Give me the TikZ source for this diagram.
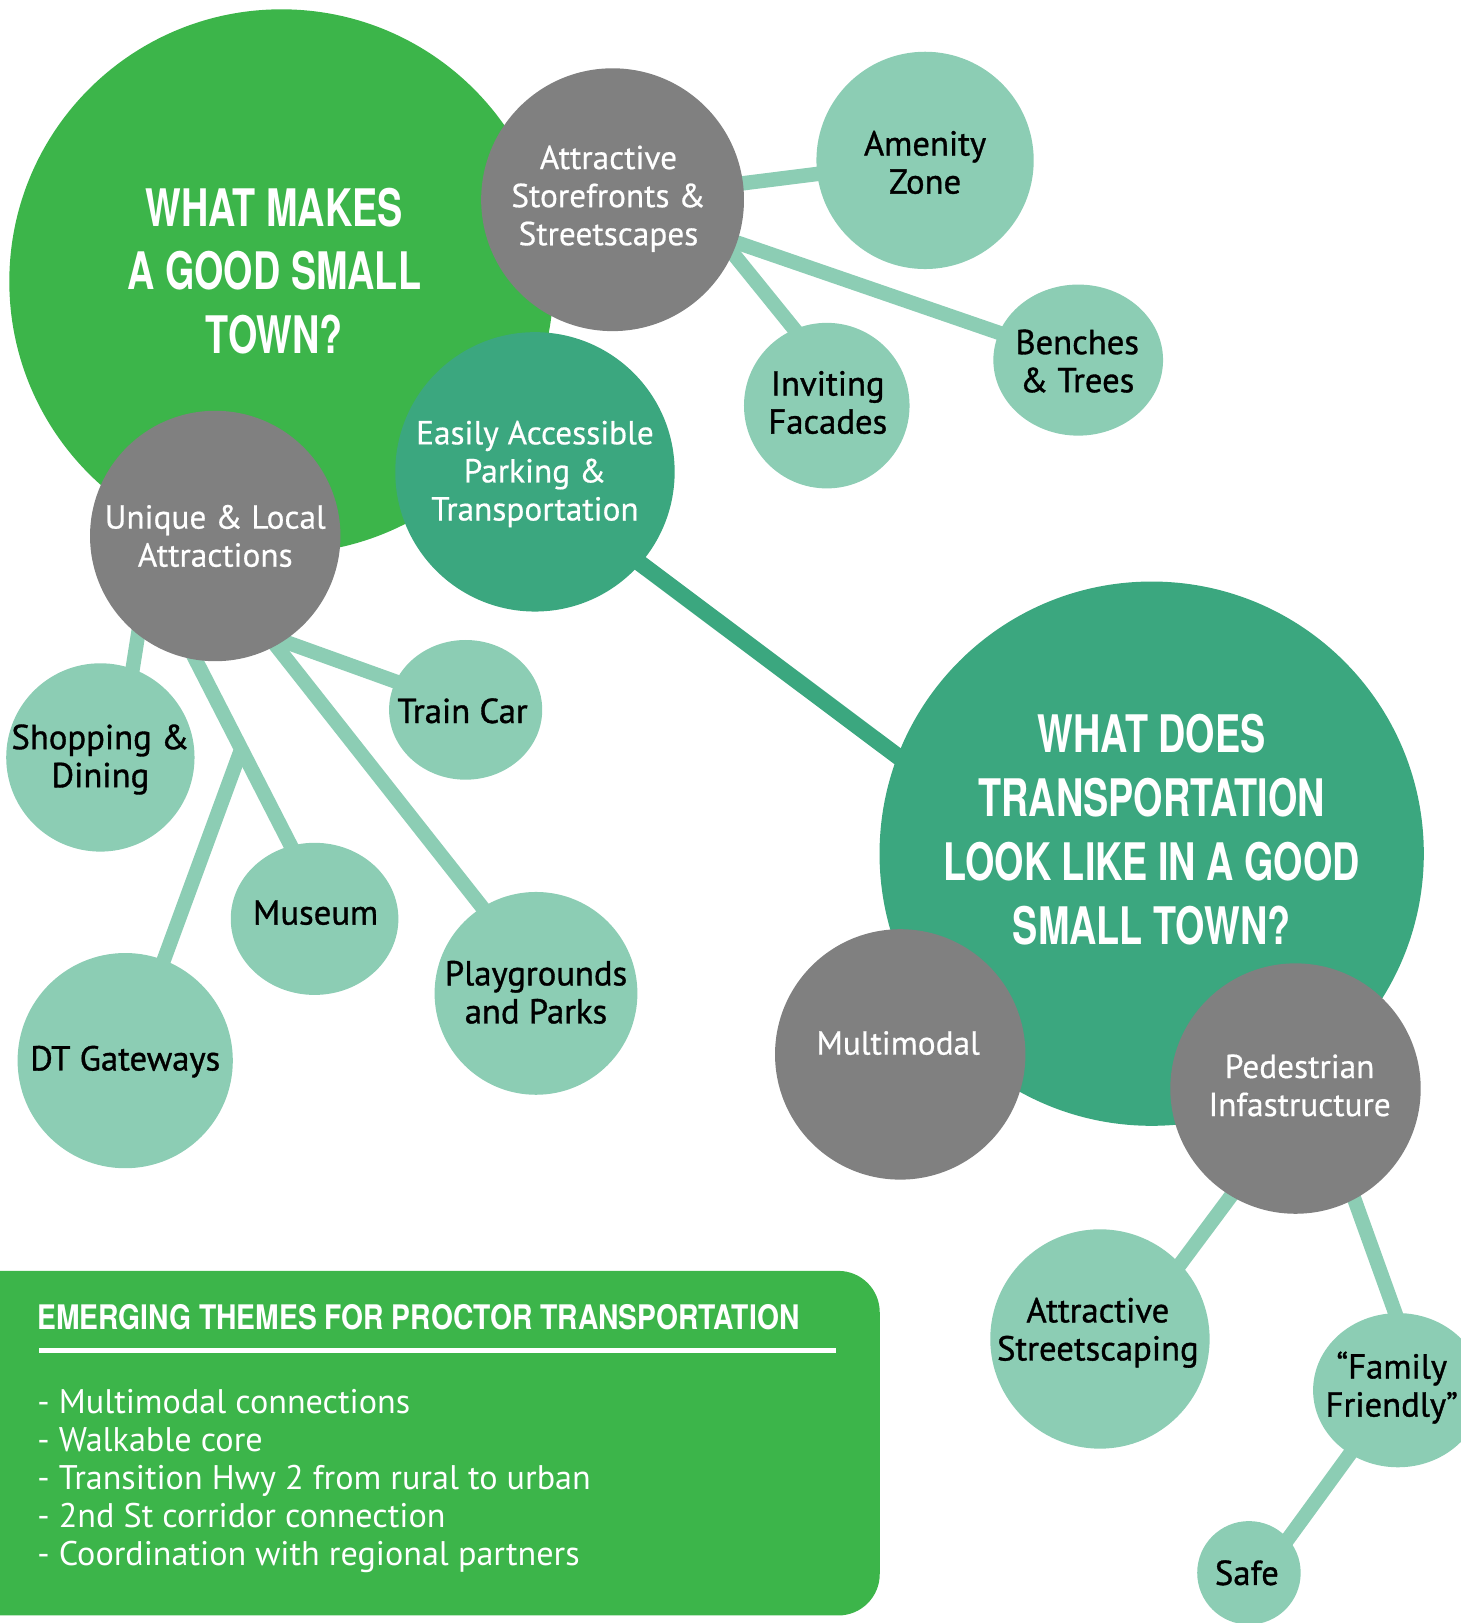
\documentclass[tikz,border=0pt]{standalone}
\usepackage{fontspec}
\setmainfont{PT Sans}
\newfontfamily\blackfont[FakeBold=1.0]{PT Sans}
\newfontfamily\whitefont[FakeBold=0.5]{PT Sans}
\newfontfamily\headA[FakeStretch=0.73]{TeX Gyre Heros}
\newfontfamily\headB[FakeStretch=0.835]{TeX Gyre Heros}
\newfontfamily\listfont{PT Sans}
\usetikzlibrary{shapes.geometric,backgrounds,calc}
\definecolor{bgreen}{HTML}{3CB54A}
\definecolor{dteal}{HTML}{3BA77F}
\definecolor{lteal}{HTML}{8CCDB4}
\definecolor{cgray}{HTML}{808080}
\begin{document}
\begin{tikzpicture}[x=1pt,y=-1pt,
  bub/.style={circle,inner sep=0pt,minimum size=#1},
  ell/.style 2 args={ellipse,inner sep=0pt,minimum width=#1,minimum height=#2},
  blbl/.style={align=center,inner sep=0pt,text=black,font=\blackfont\fontsize{33.5}{36.8}\selectfont},
  wlbl/.style={align=center,inner sep=0pt,text=white,font=\whitefont\fontsize{32.2}{36.8}\selectfont},
  bigtitle/.style={align=center,text=white,font=\headA\bfseries\fontsize{50}{61.7}\selectfont,inner sep=0pt},
  listline/.style={anchor=base west,inner sep=0pt,text=white,font=\listfont\fontsize{33}{36.6}\selectfont},
  conn/.style={line width=14pt,draw=lteal},
  dconn/.style={line width=16pt,draw=dteal},
  ext/.style={shorten <=-10pt,shorten >=-10pt}
]
\path[use as bounding box] (0,0) rectangle (1411,1568.5);

% top-left cluster
\node[bub=526pt,fill=bgreen] (g1) at (272,272) {};
\node[bigtitle] (g1t) at (265,262) {WHAT MAKES\\A GOOD SMALL\\TOWN?};
\node[bub=254pt,fill=cgray] (sf) at (592,193) {};
\node[wlbl] (sft) at (588,192) {Attractive\\Storefronts \&\\Streetscapes};
\node[bub=270pt,fill=dteal] (ea) at (517,456) {};
\node[wlbl] (eat) at (517,458) {Easily Accessible\\Parking \&\\Transportation};
\node[bub=242pt,fill=cgray] (ul) at (208,518) {};
\node[wlbl] (ult) at (208,518) {Unique \& Local\\Attractions};

\node[bub=210pt,fill=lteal] (am) at (894,155) {};
\node[blbl] (amt) at (894,157) {Amenity\\Zone};
\node[ell={164pt}{146pt},fill=lteal] (bt) at (1042,348) {};
\node[blbl] (btt) at (1041,349) {Benches\\\& Trees};
\node[bub=160pt,fill=lteal] (if) at (799,392) {};
\node[blbl] (ift) at (800,389) {Inviting\\Facades};

\node[bub=182pt,fill=lteal] (sd) at (97,732) {};
\node[blbl] (sdt) at (97,734) {Shopping \&\\Dining};
\node[ell={148pt}{135pt},fill=lteal] (tc) at (450,686) {};
\node[blbl] (tct) at (447,687) {Train Car};
\node[ell={162pt}{147pt},fill=lteal] (mu) at (304,888) {};
\node[blbl] (mut) at (305,882) {Museum};
\node[bub=196pt,fill=lteal] (pp) at (518,960) {};
\node[blbl] (ppt) at (518,959) {Playgrounds\\and Parks};
\node[bub=208pt,fill=lteal] (dt) at (121,1025) {};
\node[blbl] (dtt) at (121,1026) {DT Gateways};

% right cluster
\node[bub=526pt,fill=dteal] (g2) at (1113,825) {};
\node[bigtitle] (g2t) at (1113,802) {WHAT DOES\\TRANSPORTATION\\LOOK LIKE IN A GOOD\\SMALL TOWN?};
\node[bub=242pt,fill=cgray] (mm) at (870,1019) {};
\node[wlbl] (mmt) at (868,1008) {Multimodal};
\node[bub=242pt,fill=cgray] (pi) at (1252,1052) {};
\node[wlbl] (pit) at (1256,1049) {Pedestrian\\Infastructure};
\node[bub=212pt,fill=lteal] (as) at (1063,1294) {};
\node[blbl] (ast) at (1061,1288) {Attractive\\Streetscaping};
\node[ell={164pt}{149pt},fill=lteal] (ff) at (1351,1343.5) {};
\node[blbl] (fft) at (1345,1341) {“Family\\Friendly”};
\node[bub=100pt,fill=lteal] (sa) at (1207,1520) {};
\node[blbl] (sat) at (1205,1520) {Safe};

% themes box
\node[fill=bgreen,rounded corners=40pt,minimum width=910pt,minimum height=333pt,anchor=north west,inner sep=0pt] (box) at (-60,1228) {};
\node[anchor=base west,inner sep=0pt,text=white,font=\headB\bfseries\fontsize{32.7}{36}\selectfont] (boxt) at (36,1284.7) {EMERGING THEMES FOR PROCTOR TRANSPORTATION};
\coordinate (rule1) at (38,1305.5);
\coordinate (rule2) at (808,1305.5);
\draw[white,line width=5pt] (rule1) -- (rule2);
\node[listline] (l1) at (36,1366) {- Multimodal connections};
\node[listline] (l2) at (36,1403) {- Walkable core};
\node[listline] (l3) at (36,1439.4) {- Transition Hwy 2 from rural to urban};
\node[listline] (l4) at (36,1476) {- 2nd St corridor connection};
\node[listline] (l5) at (36,1512.5) {- Coordination with regional partners};

\begin{pgfonlayer}{background}
\draw[conn] (sf.center) -- (am.center);
\draw[conn] (sf.center) -- (bt.center);
\draw[conn,ext] (sf.-24) -- (if.113);
\draw[dconn,ext] (ea.-41) -- (g2.159);
\draw[conn,ext] (ul.-128) -- (sd.70);
\draw[conn,ext] (ul.-99) -- (mu.108);
\coordinate (br) at ($(ul.-99)!0.48!(mu.108)$);
\draw[conn,shorten >=-10pt] (br) -- (dt.69);
\draw[conn,ext] (ul.-57) -- (tc.158);
\draw[conn,ext] (ul.-61) -- (pp.122);
\draw[conn,ext] (pi.-121) -- (as.43);
\draw[conn,ext] (pi.-62) -- (ff.92);
\draw[conn,ext] (ff.-127) -- (sa.41);
\end{pgfonlayer}
\end{tikzpicture}
\end{document}
